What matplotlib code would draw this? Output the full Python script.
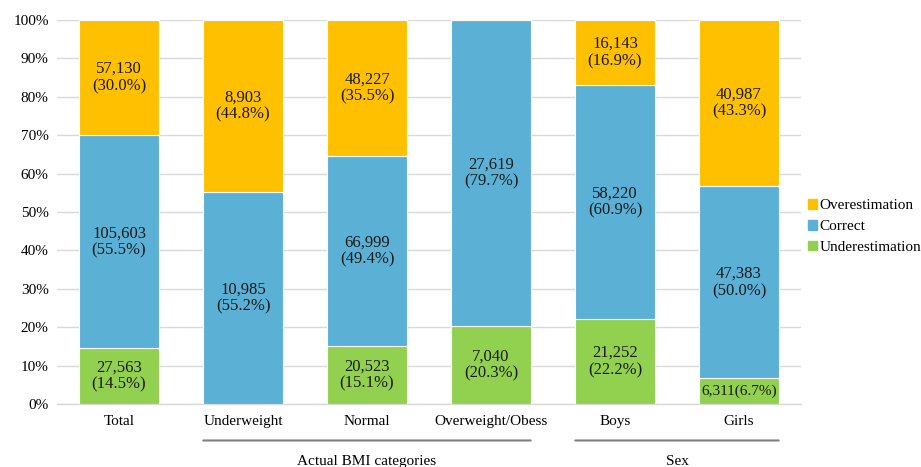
import matplotlib
matplotlib.use("Agg")
import matplotlib.pyplot as plt
import matplotlib.patches as mpatches
import numpy as np

# ── Data ──────────────────────────────────────────────────────────────────────
categories = ["Total", "Underweight", "Normal", "Overweight/Obess", "Boys", "Girls"]
under = [27563, 0, 20523, 7040, 21252, 6311]
correct = [105603, 10985, 66999, 27619, 58220, 47383]
over = [57130, 8903, 48227, 0, 16143, 40987]
under_pct = [14.5, 0, 15.1, 20.3, 22.2, 6.7]
correct_pct = [55.5, 55.2, 49.4, 79.7, 60.9, 50.0]
over_pct = [30.0, 44.8, 35.5, 0, 16.9, 43.3]
groups = [("Actual BMI categories", 1, 3), ("Sex", 4, 5)]

C_UNDER = "#92D050"
C_CORRECT = "#5BB0D6"
C_OVER = "#FFC000"

plt.rcParams["font.family"] = ["Liberation Serif", "DejaVu Serif"]

totals = np.array(under) + np.array(correct) + np.array(over)
f_under = np.array(under) / totals * 100
f_correct = np.array(correct) / totals * 100
f_over = np.array(over) / totals * 100

fig = plt.figure(figsize=(9.21, 4.67), dpi=100)
ax = fig.add_axes([0.0619, 0.1349, 0.8078, 0.8221])
x = np.arange(len(categories))
w = 0.645

ax.bar(x, f_under, w, color=C_UNDER, edgecolor="white", linewidth=0.8, zorder=3)
ax.bar(x, f_correct, w, bottom=f_under, color=C_CORRECT, edgecolor="white", linewidth=0.8, zorder=3)
ax.bar(x, f_over, w, bottom=f_under + f_correct, color=C_OVER, edgecolor="white", linewidth=0.8, zorder=3)

# Labels in segments (small segments get a one-line label)
def label(i, bottom, height, n, p):
    if n == 0:
        return
    if height < 10:
        txt, fs = f"{n:,}({p:.1f}%)", 11
    else:
        txt, fs = f"{n:,}\n({p:.1f}%)", 12
    ax.text(i, bottom + height / 2, txt, ha="center", va="center",
            fontsize=fs, color="#1a1a1a", zorder=4, linespacing=1.1)

for i in range(len(categories)):
    label(i, 0, f_under[i], under[i], under_pct[i])
    label(i, f_under[i], f_correct[i], correct[i], correct_pct[i])
    label(i, f_under[i] + f_correct[i], f_over[i], over[i], over_pct[i])

ax.set_xlim(-0.5, len(categories) - 0.5)
ax.set_ylim(0, 100)
ax.set_yticks(np.arange(0, 101, 10))
ax.set_yticklabels([f"{v}%" for v in range(0, 101, 10)], fontsize=11)
ax.set_xticks(x)
ax.set_xticklabels(categories, fontsize=11)
ax.tick_params(axis="both", length=0, pad=6)
ax.tick_params(axis="x", pad=8)
ax.grid(axis="y", color="#D9D9D9", linewidth=1, zorder=0)
for s in ["top", "right", "left"]:
    ax.spines[s].set_visible(False)
ax.spines["bottom"].set_color("#D9D9D9")
ax.spines["bottom"].set_linewidth(1)

# Group lines and labels
for name, a, b in groups:
    ax.annotate("", xy=(a - 0.5 * w - 0.02, -0.095), xytext=(b + 0.5 * w + 0.02, -0.095),
                xycoords=("data", "axes fraction"), textcoords=("data", "axes fraction"),
                arrowprops=dict(arrowstyle="-", color="#7F7F7F", lw=1.5))
    ax.text((a + b) / 2, -0.15, name, ha="center", va="center", fontsize=11,
            transform=ax.get_xaxis_transform())

handles = [mpatches.Patch(color=C_OVER, label="Overestimation"),
           mpatches.Patch(color=C_CORRECT, label="Correct"),
           mpatches.Patch(color=C_UNDER, label="Underestimation")]
fig.legend(handles=handles, loc="center left", bbox_to_anchor=(0.877, 0.515),
           frameon=False, fontsize=11, handlelength=0.6, handleheight=0.6,
           handletextpad=0.15, labelspacing=0.5, borderaxespad=0, borderpad=0)

plt.savefig("out.png", dpi=100)
plt.close()
